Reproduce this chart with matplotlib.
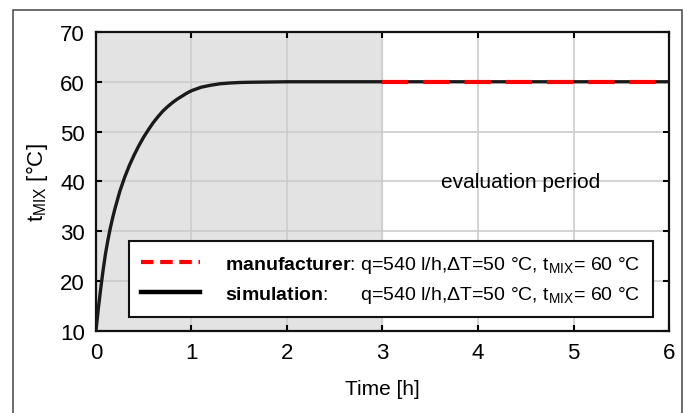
import matplotlib
matplotlib.use('Agg')
import matplotlib.pyplot as plt
from matplotlib.patches import Rectangle
from matplotlib.lines import Line2D

plt.rcParams['font.family'] = ['Liberation Sans', 'DejaVu Sans']
plt.rcParams['mathtext.fontset'] = 'custom'
plt.rcParams['mathtext.rm'] = 'Liberation Sans'
plt.rcParams['mathtext.bf'] = 'Liberation Sans:bold'

# simulated mixed water temperature
time_h = [0, 0.025, 0.05, 0.075, 0.1, 0.125, 0.15, 0.175, 0.2, 0.25, 0.3, 0.35,
          0.4, 0.45, 0.5, 0.55, 0.6, 0.65, 0.7, 0.75, 0.8, 0.85, 0.9, 0.95, 1.0,
          1.1, 1.2, 1.3, 1.4, 1.5, 1.6, 1.8, 2.0, 2.5, 3.0, 4.0, 5.0, 6.0]
t_sim = [10, 14.5, 18.5, 22.2, 25.5, 28.2, 30.6, 32.7, 34.6, 38.0, 40.8, 43.2,
         45.3, 47.2, 48.9, 50.4, 51.8, 53.0, 54.1, 55.0, 55.8, 56.5, 57.1, 57.7, 58.2,
         58.9, 59.3, 59.6, 59.75, 59.85, 59.9, 59.95, 60, 60, 60, 60, 60, 60]

# manufacturer value over the evaluation period
time_man = [3.0, 6.0]
t_man = [60, 60]

eval_start = 3.0
xticks = [0, 1, 2, 3, 4, 5, 6]
yticks = [10, 20, 30, 40, 50, 60, 70]

lab_man = r'$\mathbf{manufacturer}$: q=540 l/h,ΔT=50 °C, t$_{\mathregular{MIX}}$= 60 °C'
lab_sim = r'$\mathbf{simulation}$:      q=540 l/h,ΔT=50 °C, t$_{\mathregular{MIX}}$= 60 °C'

fig = plt.figure(figsize=(6.89, 4.14), dpi=100)
ax = fig.add_axes([0.1393, 0.199, 0.8317, 0.7213])

# outer frame
fig.patches.append(Rectangle((0.0184, -0.1), 0.9714, 1.0734, transform=fig.transFigure,
                             fill=False, edgecolor='#444444', linewidth=1.1))

ax.axvspan(0, eval_start, color='#e3e3e3', zorder=0)
ax.grid(True, color='#cccccc', linewidth=1.2, zorder=1)
ax.set_axisbelow(True)

ax.plot(time_h, t_sim, color='#1a1a1a', linewidth=2.4, zorder=3)
ax.plot(time_man, t_man, color='red', linewidth=3.0, dashes=(6.3, 3.6), zorder=4)

ax.text(4.45, 40, 'evaluation period', ha='center', va='center', fontsize=15)

ax.set_xlim(0, 6)
ax.set_ylim(10, 70)
ax.set_xticks(xticks)
ax.set_yticks(yticks)
ax.tick_params(direction='in', length=4, width=1.5, labelsize=16, pad=8,
               top=True, right=True)
for s in ax.spines.values():
    s.set_linewidth(1.6)
    s.set_color('#111111')

ax.set_xlabel('Time [h]', fontsize=15, labelpad=12)
ax.set_ylabel(r't$_{\mathregular{MIX}}$ [°C]', fontsize=16, labelpad=7)

handles = [Line2D([], [], color='red', linewidth=3.0, dashes=(3.0, 1.6)),
           Line2D([], [], color='black', linewidth=3.2)]
leg = ax.legend(handles, [lab_man, lab_sim], loc='lower right',
                bbox_to_anchor=(0.972, 0.045), borderaxespad=0,
                fontsize=14, handlelength=3.0, handletextpad=1.3, fancybox=False,
                framealpha=1, edgecolor='#111111', borderpad=0.65, labelspacing=0.45)
leg.get_frame().set_linewidth(1.5)
leg.set_zorder(5)

fig.savefig('out.png', dpi=100)
